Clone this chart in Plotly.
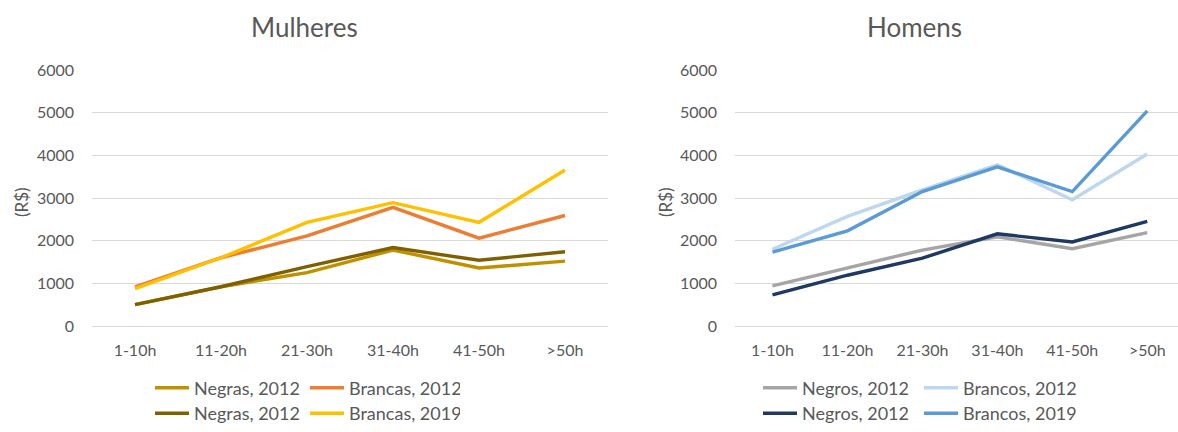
import plotly.graph_objects as go
from plotly.subplots import make_subplots

# Faixas de horas trabalhadas por semana
categorias = ["1-10h", "11-20h", "21-30h", "31-40h", "41-50h", ">50h"]

# Rendimento médio (R$) - Mulheres
negras_2012_a = [500, 920, 1250, 1780, 1360, 1520]
brancas_2012_m = [920, 1600, 2110, 2780, 2060, 2590]
negras_2012_b = [500, 920, 1390, 1840, 1540, 1740]
brancas_2019_m = [875, 1600, 2430, 2890, 2430, 3656]

# Rendimento médio (R$) - Homens
negros_2012_a = [940, 1350, 1780, 2090, 1810, 2190]
brancos_2012_h = [1800, 2570, 3190, 3780, 2960, 4030]
negros_2012_b = [730, 1190, 1590, 2160, 1970, 2450]
brancos_2019_h = [1730, 2230, 3150, 3730, 3150, 5040]

FONT = "Lato"
GRAY = "#595959"
W, H = 1178, 432

fig = make_subplots(rows=1, cols=2, horizontal_spacing=0.1)

series_m = [
    ("Negras, 2012", negras_2012_a, "#BF9000", "legend"),
    ("Brancas, 2012", brancas_2012_m, "#ED7D31", "legend"),
    ("Negras, 2012", negras_2012_b, "#7F6000", "legend2"),
    ("Brancas, 2019", brancas_2019_m, "#FFC000", "legend2"),
]
series_h = [
    ("Negros, 2012", negros_2012_a, "#A5A5A5", "legend3"),
    ("Brancos, 2012", brancos_2012_h, "#BDD7EE", "legend3"),
    ("Negros, 2012", negros_2012_b, "#203864", "legend4"),
    ("Brancos, 2019", brancos_2019_h, "#5B9BD5", "legend4"),
]

for name, vals, color, leg in series_m:
    fig.add_trace(go.Scatter(x=categorias, y=vals, name=name, mode="lines",
                             line=dict(color=color, width=3.4), legend=leg),
                  row=1, col=1)
for name, vals, color, leg in series_h:
    fig.add_trace(go.Scatter(x=categorias, y=vals, name=name, mode="lines",
                             line=dict(color=color, width=3.4), legend=leg),
                  row=1, col=2)

y_top, y_bot = 70, 326
ydom = [(H - y_bot) / H, (H - y_top) / H]

axis_common = dict(showline=False, ticks="", automargin=False,
                   tickfont=dict(family=FONT, size=16, color=GRAY))
fig.update_xaxes(**axis_common, showgrid=False, ticklabelstandoff=13)
fig.update_yaxes(**axis_common, range=[0, 6000], dtick=1000, showgrid=True,
                 gridcolor="#D9D9D9", gridwidth=1, zeroline=True,
                 zerolinecolor="#D9D9D9", zerolinewidth=1, ticklabelstandoff=17,
                 domain=ydom)
fig.update_xaxes(domain=[92 / W, 608 / W], range=[-0.5, 5.5], row=1, col=1)
fig.update_xaxes(domain=[735 / W, 1.0], range=[-0.5, 5.41], row=1, col=2)

# Two-row legends below each chart
leg_common = dict(orientation="h", font=dict(family=FONT, size=18, color=GRAY),
                  bgcolor="rgba(0,0,0,0)", entrywidthmode="pixels",
                  xanchor="left", itemwidth=34, tracegroupgap=0)
row1_y = (H - 388) / H
fig.update_layout(
    legend=dict(**leg_common, entrywidth=106, x=150 / W, y=row1_y, yanchor="middle"),
    legend2=dict(**leg_common, entrywidth=106, x=150 / W, y=0, yanchor="bottom"),
    legend3=dict(**leg_common, entrywidth=112, x=758 / W, y=row1_y, yanchor="middle"),
    legend4=dict(**leg_common, entrywidth=112, x=758 / W, y=0, yanchor="bottom"),
)

annots = [
    dict(text="Mulheres", x=304 / W, y=(H - 27) / H, font=dict(size=26)),
    dict(text="Homens", x=915 / W, y=(H - 27) / H, font=dict(size=26)),
    dict(text="(R$)", x=21 / W, y=(H - 202) / H, textangle=-90, font=dict(size=17)),
    dict(text="(R$)", x=665 / W, y=(H - 202) / H, textangle=-90, font=dict(size=17)),
]
for a in annots:
    a["font"].update(family=FONT, color=GRAY)
    fig.add_annotation(xref="paper", yref="paper", showarrow=False,
                       xanchor="center", yanchor="middle", **a)

fig.update_layout(
    width=W, height=H,
    margin=dict(l=0, r=0, t=0, b=0),
    paper_bgcolor="white", plot_bgcolor="white",
    showlegend=True,
)

fig.write_html("out.html")
